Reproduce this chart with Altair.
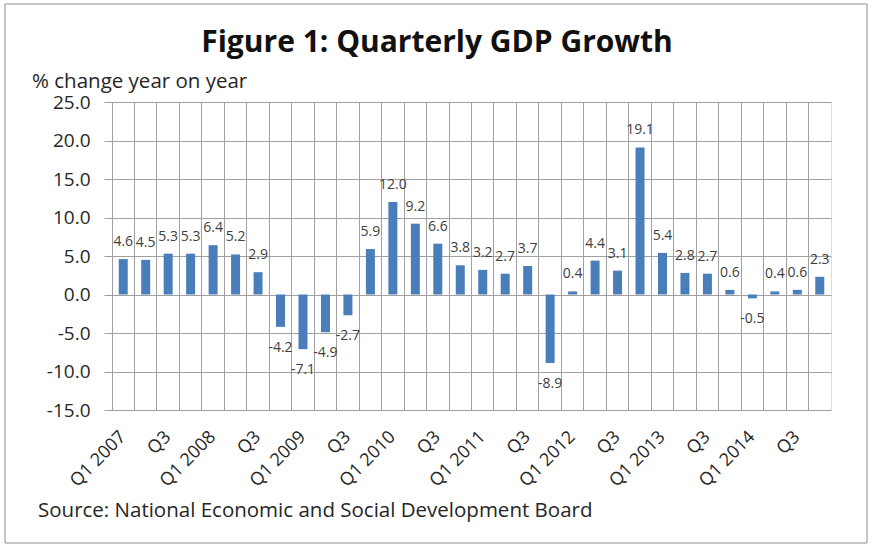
import altair as alt
import pandas as pd

quarters = [
    "Q1 2007", "Q2 2007", "Q3 2007", "Q4 2007",
    "Q1 2008", "Q2 2008", "Q3 2008", "Q4 2008",
    "Q1 2009", "Q2 2009", "Q3 2009", "Q4 2009",
    "Q1 2010", "Q2 2010", "Q3 2010", "Q4 2010",
    "Q1 2011", "Q2 2011", "Q3 2011", "Q4 2011",
    "Q1 2012", "Q2 2012", "Q3 2012", "Q4 2012",
    "Q1 2013", "Q2 2013", "Q3 2013", "Q4 2013",
    "Q1 2014", "Q2 2014", "Q3 2014", "Q4 2014",
]
growth = [
    4.6, 4.5, 5.3, 5.3,
    6.4, 5.2, 2.9, -4.2,
    -7.1, -4.9, -2.7, 5.9,
    12.0, 9.2, 6.6, 3.8,
    3.2, 2.7, 3.7, -8.9,
    0.4, 4.4, 3.1, 19.1,
    5.4, 2.8, 2.7, 0.6,
    -0.5, 0.4, 0.6, 2.3,
]
y_ticks = [-15, -10, -5, 0, 5, 10, 15, 20, 25]

TITLE = "Figure 1: Quarterly GDP Growth"
Y_TITLE = "% change year on year"
SOURCE = "Source: National Economic and Social Development Board"

FONT = "Open Sans"
GRID = "#a0a0a0"
BAR = "#4a7ebb"
TEXT = "#262626"

df = pd.DataFrame({"quarter": quarters, "growth": growth})
df["label"] = [f"{v:.1f}" for v in growth]

x_label_expr = (
    "indexof(datum.value, 'Q1') == 0 ? datum.value : "
    "(indexof(datum.value, 'Q3') == 0 ? 'Q3' : '')"
)
y_label_expr = (
    "datum.value < 0 ? '-' + format(-datum.value, '.1f') : format(datum.value, '.1f')"
)

x_enc = alt.X(
    "quarter:N",
    sort=quarters,
    scale=alt.Scale(paddingInner=0, paddingOuter=0),
    axis=alt.Axis(
        title=None,
        labelAngle=-45,
        labelAlign="right",
        labelBaseline="middle",
        labelPadding=24,
        labelExpr=x_label_expr,
        labelOverlap=False,
        labelFont=FONT,
        labelFontSize=18,
        labelColor=TEXT,
        bandPosition=0,
        ticks=False,
        grid=True,
        gridColor=GRID,
        gridWidth=1,
        domain=False,
    ),
)

y_enc = alt.Y(
    "growth:Q",
    scale=alt.Scale(domain=[-15, 25], nice=False, zero=False),
    axis=alt.Axis(
        values=y_ticks,
        tickCount=9,
        labelExpr=y_label_expr,
        title=None,
        labelFont=FONT,
        labelFontSize=19,
        labelColor=TEXT,
        labelPadding=14,
        labelOverlap=False,
        tickSize=8,
        tickColor=GRID,
        grid=True,
        gridColor=GRID,
        gridWidth=1,
        domain=False,
    ),
)

base = alt.Chart(df)

bars = base.mark_bar(size=9, color=BAR).encode(x=x_enc, y=y_enc)

pos_labels = base.transform_filter("datum.growth >= 0").mark_text(
    baseline="alphabetic", dy=-13, fontSize=14, font=FONT, color="#404040"
).encode(x=x_enc, y=y_enc, text="label:N")

neg_labels = base.transform_filter("datum.growth < 0").mark_text(
    baseline="alphabetic", dy=25, fontSize=14, font=FONT, color="#404040"
).encode(x=x_enc, y=y_enc, text="label:N")

# decorative outer frame of the chart area (Excel-style border)
frame = alt.Chart(pd.DataFrame({"f": [0]})).mark_rect(
    fillOpacity=0, stroke="#8c8c8c", strokeWidth=1
).encode(
    x=alt.value(-107), x2=alt.value(755), y=alt.value(-98), y2=alt.value(441)
)

texts = pd.DataFrame({"t": [TITLE, Y_TITLE, SOURCE]})

title_txt = alt.Chart(texts).transform_filter(
    alt.datum.t == TITLE
).mark_text(
    fontSize=30, fontWeight="bold", font=FONT, color="#111111",
    align="center", baseline="alphabetic"
).encode(text="t:N", x=alt.value(325), y=alt.value(-50))

ytitle_txt = alt.Chart(texts).transform_filter(
    alt.datum.t == Y_TITLE
).mark_text(
    fontSize=20.5, font=FONT, color=TEXT, align="left", baseline="alphabetic"
).encode(text="t:N", x=alt.value(-80), y=alt.value(-14))

source_txt = alt.Chart(texts).transform_filter(
    alt.datum.t == SOURCE
).mark_text(
    fontSize=20.5, font=FONT, color=TEXT, align="left", baseline="alphabetic"
).encode(text="t:N", x=alt.value(-74), y=alt.value(415))

chart = (
    alt.layer(bars, pos_labels, neg_labels, frame, title_txt, ytitle_txt, source_txt)
    .properties(
        width=719,
        height=308,
        padding={"left": 112, "top": 102, "right": 42, "bottom": 136},
        autosize=alt.AutoSizeParams(type="none"),
    )
    .configure_view(stroke=GRID, strokeWidth=1)
    .configure(background="white")
)

chart.save("out.html", embed_options={"renderer": "svg", "actions": False})
